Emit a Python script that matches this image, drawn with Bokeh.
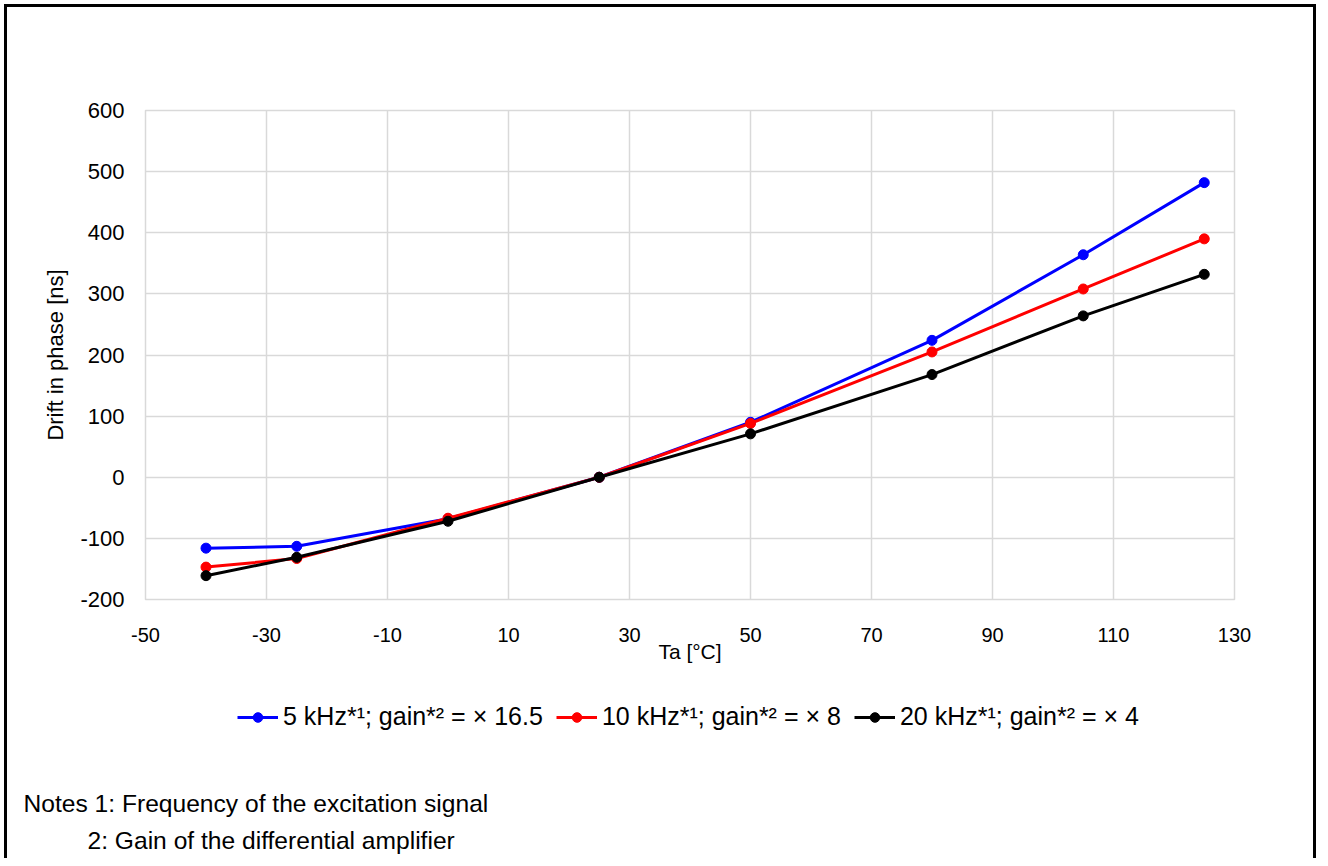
from bokeh.plotting import figure
from bokeh.layouts import column
from bokeh.models import FixedTicker, Legend, LegendItem, Label, Range1d
from bokeh.embed import file_html
from bokeh.resources import INLINE

# ---- data ----
temps = [-40, -25, 0, 25, 50, 80, 105, 125]
drift_5k = [-116, -113, -68, 0, 90, 224, 364, 482]
drift_10k = [-147, -133, -67, 0, 88, 205, 308, 390]
drift_20k = [-161, -131, -72, 0, 71, 168, 264, 332]
series_labels = ["5 kHz*¹; gain*² = × 16.5", "10 kHz*¹; gain*² = × 8", "20 kHz*¹; gain*² = × 4"]
series_colors = ["#0000ff", "#ff0000", "#000000"]
x_ticks = [-50, -30, -10, 10, 30, 50, 70, 90, 110, 130]
y_ticks = [-200, -100, 0, 100, 200, 300, 400, 500, 600]
x_title = "Ta [°C]"
y_title = "Drift in phase [ns]"
notes = ["Notes 1: Frequency of the excitation signal", "2: Gain of the differential amplifier"]

FONT = "Liberation Sans"
W = 1320
H1, H2 = 670, 188
FL, FT, FR, FB = 145, 110, 1234, 599   # plot-area edges in pixels

# ---- main chart ----
p = figure(output_backend="svg", toolbar_location=None,
           frame_width=FR - FL, frame_height=FB - FT,
           x_range=Range1d(-50, 130), y_range=Range1d(-200, 600),
           min_border_left=FL, min_border_right=W - FR, min_border_top=FT, min_border_bottom=H1 - FB)
p.frame_align = False
p.background_fill_color = "white"
p.border_fill_alpha = 0
p.outline_line_color = "#d9d9d9"
p.outline_line_width = 1.5

for ax, ticks in ((p.xaxis[0], x_ticks), (p.yaxis[0], y_ticks)):
    ax.ticker = FixedTicker(ticks=ticks)
    ax.major_label_overrides = {t: str(t) for t in ticks}
    ax.axis_line_color = None
    ax.major_tick_line_color = None
    ax.minor_tick_line_color = None
    ax.major_tick_out = 0
    ax.major_tick_in = 0
    ax.major_label_text_font = FONT
    ax.major_label_text_color = "#000000"
    ax.axis_label_text_font = FONT
    ax.axis_label_text_font_style = "normal"
    ax.axis_label_text_color = "#000000"

p.xaxis.major_label_text_font_size = "20px"
p.yaxis.major_label_text_font_size = "22px"
p.xaxis.axis_label_text_font_size = "21px"
p.yaxis.axis_label_text_font_size = "22px"
p.xaxis.axis_label = x_title
p.yaxis.axis_label = y_title
p.xaxis.major_label_standoff = 28
p.xaxis.axis_label_standoff = -5
p.yaxis.major_label_standoff = 21
p.yaxis.axis_label_standoff = 9

p.xgrid.grid_line_color = "#d9d9d9"
p.ygrid.grid_line_color = "#d9d9d9"
p.xgrid.grid_line_width = 1.5
p.ygrid.grid_line_width = 1.5

all_series = [drift_5k, drift_10k, drift_20k]
for ys, col in zip(all_series, series_colors):
    p.line(temps, ys, line_color=col, line_width=3)
    p.scatter(temps, ys, marker="circle", size=10, fill_color=col, line_color=col)

# ---- legend and notes strip below the chart ----
q = figure(width=W, height=H2, output_backend="svg", toolbar_location=None,
           x_range=Range1d(0, 1), y_range=Range1d(0, 1),
           x_axis_type=None, y_axis_type=None,
           min_border_left=0, min_border_right=0, min_border_top=0, min_border_bottom=0)
q.frame_align = False
q.grid.visible = False
q.outline_line_color = None
q.background_fill_alpha = 0
q.border_fill_alpha = 0

items = []
for ys, lab, col in zip(all_series, series_labels, series_colors):
    r1 = q.line(temps, ys, line_color=col, line_width=3, visible=False)
    r2 = q.scatter(temps, ys, marker="circle", size=8, fill_color=col, line_color=col, visible=False)
    items.append(LegendItem(label=lab, renderers=[r1, r2]))

legend = Legend(items=items, orientation="horizontal", location=(237, 127),
                label_text_font=FONT, label_text_font_size="25px", label_text_color="#000000",
                glyph_width=41, glyph_height=24, label_height=24, label_standoff=5, spacing=13,
                padding=0, margin=0, border_line_color=None, background_fill_alpha=0)
q.add_layout(legend, "center")

q.add_layout(Label(x=23, y=H2 - (803 - H1), x_units="screen", y_units="screen", text=notes[0],
                   text_font=FONT, text_font_size="24.6px", text_baseline="middle", text_color="#000000"))
q.add_layout(Label(x=87, y=H2 - (840 - H1), x_units="screen", y_units="screen", text=notes[1],
                   text_font=FONT, text_font_size="24.6px", text_baseline="middle", text_color="#000000"))

page = column(p, q, spacing=0, styles={
    "background-color": "#ffffff",
    "box-shadow": "inset 4px 4px 0 0 #ffffff, inset -4px 0 0 0 #ffffff, "
                  "inset 7px 7px 0 0 #000000, inset -7px 0 0 0 #000000",
})

open("out.html", "w").write(file_html(page, INLINE))
